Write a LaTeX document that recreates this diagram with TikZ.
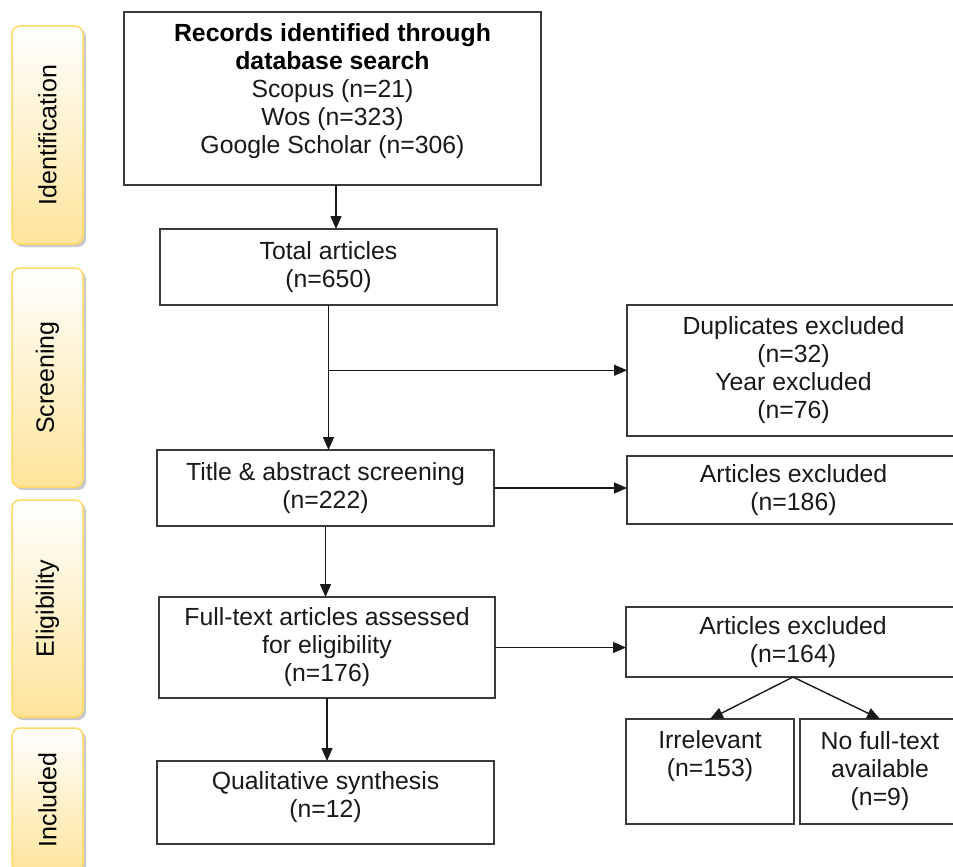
\documentclass[tikz,border=0pt]{standalone}
\usepackage{fontspec}
\setmainfont{Liberation Sans}
\usetikzlibrary{arrows.meta,calc,shadows}
\definecolor{linec}{HTML}{3A3A3A}
\definecolor{sideborder}{HTML}{FFD966}
\definecolor{sidefill}{HTML}{FFE49A}
\tikzset{
  box/.style={draw=linec, line width=1.4pt, fill=white, inner sep=0pt, outer sep=0pt},
  txt/.style={align=center, font=\fontsize{24.8}{28}\selectfont, text=black!90},
  btxt/.style={align=center, font=\fontsize{24.8}{28}\selectfont\bfseries, text=black},
  arr/.style={-{Triangle[length=13pt,width=11pt]}, line width=1.4pt, draw=black!90},
  side/.style={draw=sideborder, line width=1.5pt, rounded corners=8pt, top color=white,
    bottom color=sidefill, inner sep=0pt,
    drop shadow={shadow xshift=3pt, shadow yshift=-3pt, fill=black!35, opacity=0.6},
    font=\fontsize{25}{28}\selectfont, text=black}
}
\begin{document}
\begin{tikzpicture}[x=1pt,y=-1pt]
\useasboundingbox (0,0) rectangle (953,867);
\fill[white] (0,0) rectangle (953,867);

% side bars
\node[side, minimum width=71pt, minimum height=218pt] (s1) at (47.5,135) {\rotatebox{90}{Identification}};
\node[side, minimum width=71pt, minimum height=219pt] (s2) at (47.5,377.5) {\rotatebox{90}{Screening}};
\node[side, minimum width=71pt, minimum height=217pt] (s3) at (47.5,608.5) {\rotatebox{90}{Eligibility}};
\node[side, minimum width=71pt, minimum height=144pt] (s4) at (47.5,800) {\rotatebox{90}{Included}};

% main boxes
\node[box, minimum width=417pt, minimum height=173pt] (rec) at (332.5,98.5) {};
\node[btxt] (rect) at (332.5,47) {Records identified through\\database search};
\node[txt] (recs) at (332.5,119) {Scopus (n=21)\\Wos (n=323)\\Google Scholar (n=306)};

\node[box, txt, minimum width=337pt, minimum height=76pt] (tot) at (328.5,267) {Total articles\\(n=650)};
\node[box, txt, minimum width=337pt, minimum height=76pt] (tas) at (325.5,488) {Title \& abstract screening\\(n=222)};
\node[box, txt, minimum width=336pt, minimum height=101pt] (ft) at (327,647.5) {Full-text articles assessed\\for eligibility\\(n=176)};
\node[box, minimum width=337pt, minimum height=83pt] (qs) at (325.5,802.5) {};
\node[txt] (qst) at (325.5,797) {Qualitative synthesis\\(n=12)};

% right boxes
\node[box, txt, minimum width=333pt, minimum height=131pt] (dup) at (793.5,370.5) {Duplicates excluded\\(n=32)\\Year excluded\\(n=76)};
\node[box, txt, minimum width=333pt, minimum height=68pt] (ex1) at (793.5,490) {Articles excluded\\(n=186)};
\node[box, txt, minimum width=334pt, minimum height=70pt] (ex2) at (793,642) {Articles excluded\\(n=164)};
\node[box, minimum width=168pt, minimum height=105pt] (irr) at (710,771.5) {};
\node[txt] (irrt) at (710,756) {Irrelevant\\(n=153)};
\node[box, txt, minimum width=160pt, minimum height=105pt] (nft) at (880,771.5) {No full-text\\available\\(n=9)};

% connectors
\coordinate (a1) at (336,185);
\draw[arr] (a1) -- (a1 |- tot.north);
\draw[arr] (tot.south) -- (tot.south |- tas.north);
\coordinate (br) at ($(tot.south)!0.45!(tot.south |- tas.north)$);
\draw[arr] (br) -- (br -| dup.west);
\draw[arr] (tas.east) -- (tas.east -| ex1.west);
\draw[arr] (tas.south) -- (tas.south |- ft.north);
\draw[arr] (ft.east) -- (ft.east -| ex2.west);
\draw[arr] (ft.south) -- (ft.south |- qs.north);
\draw[arr] (ex2.south) -- (irr.north);
\draw[arr] (ex2.south) -- (nft.north);
\end{tikzpicture}
\end{document}
